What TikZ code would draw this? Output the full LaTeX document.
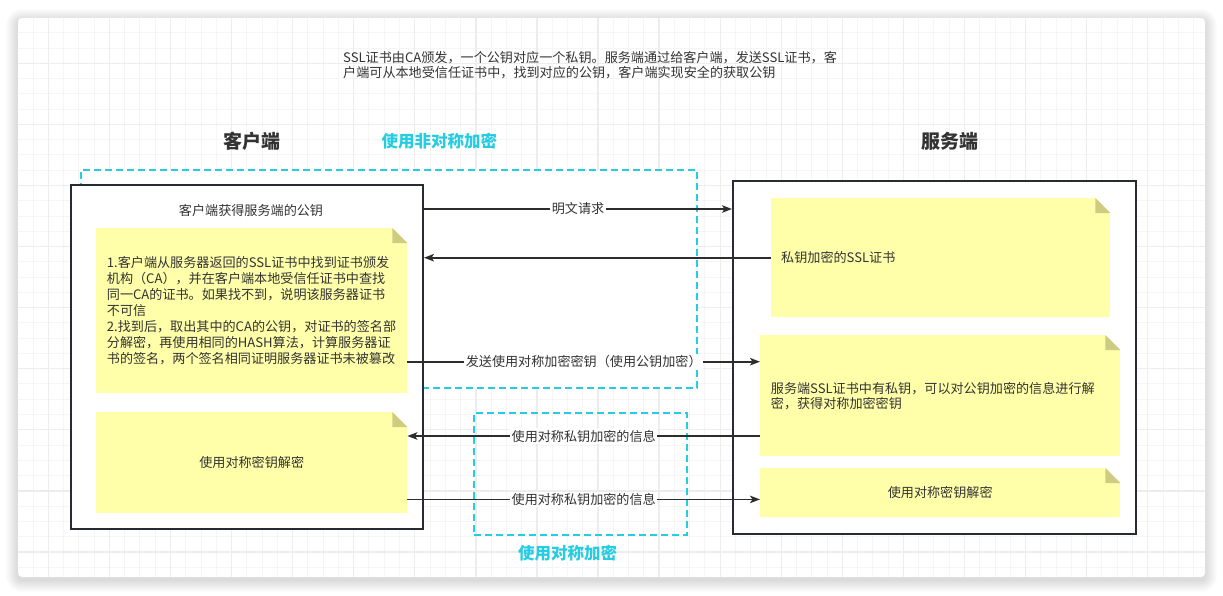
\documentclass[tikz,border=0pt]{standalone}
\usepackage{fontspec}
\setmainfont{Noto Sans CJK SC}
\usetikzlibrary{arrows.meta,calc}
\definecolor{textc}{RGB}{51,51,51}
\definecolor{boxc}{RGB}{40,44,50}
\definecolor{arrc}{RGB}{45,45,45}
\definecolor{cyanc}{RGB}{38,204,226}
\definecolor{notey}{RGB}{255,255,170}
\definecolor{foldc}{RGB}{206,204,128}
\definecolor{gridminor}{RGB}{245,245,245}
\definecolor{gridmajor}{RGB}{237,237,237}
\newcommand\notefold[1]{%
  \fill[white] ($(#1.north east)+(-15,0)$) -- (#1.north east) -- ($(#1.north east)+(0,15)$) -- cycle;
  \fill[foldc] ($(#1.north east)+(-15,0)$) -- ($(#1.north east)+(0,15)$) -- ($(#1.north east)+(-15,15)$) -- cycle;}
\begin{document}
\begin{tikzpicture}[x=1pt,y=-1pt,
  txt/.style={text=textc, font=\fontsize{13.1}{16.1}\selectfont, inner sep=0pt},
  head/.style={text=textc, font=\fontsize{19}{22}\selectfont\bfseries, inner sep=0pt},
  cyanhead/.style={text=cyanc, font=\fontsize{16.5}{20}\selectfont\bfseries, inner sep=0pt},
  frame/.style={draw=boxc, line width=2pt, fill=white, inner sep=0pt, anchor=north west},
  dashbox/.style={draw=cyanc, line width=2pt, dash pattern=on 7pt off 4pt, inner sep=0pt, anchor=north west},
  notebox/.style={fill=notey, inner sep=0pt, anchor=north west},
  arr/.style={draw=arrc, line width=1.7pt, -{Stealth[length=10pt,width=7.5pt,inset=2.5pt]}},
  lbl/.style={txt, fill=white, inner sep=1.5pt}
]
\useasboundingbox (0,0) rectangle (1223,595);
% window shadow
\foreach \i in {1,...,12}
  \fill[black, opacity=0.011, rounded corners={4+\i}] ({18-\i},{18-\i+3}) rectangle ({1205+\i},{577+\i+3});
\fill[white, rounded corners=4] (18,18) rectangle (1205,577);
% grid
\begin{scope}
\clip[rounded corners=4] (18,18) rectangle (1205,577);
\foreach \i in {-2,...,77} \draw[gridminor, line width=1pt] ({48.3+15.27*\i},18) -- ({48.3+15.27*\i},577);
\foreach \j in {-3,...,35} \draw[gridminor, line width=1pt] (18,{63.3+15.27*\j}) -- (1205,{63.3+15.27*\j});
\foreach \i in {0,...,19} \draw[gridmajor, line width=1.3pt] ({48.3+61.08*\i},18) -- ({48.3+61.08*\i},577);
\foreach \j in {-1,...,9} \draw[gridmajor, line width=1.3pt] (18,{63.3+61.08*\j}) -- (1205,{63.3+61.08*\j});
\end{scope}

% description
\node[txt, font=\fontsize{13.1}{15.4}\selectfont, anchor=west, align=left] (desc) at (343,65)
  {SSL证书由CA颁发，一个公钥对应一个私钥。服务端通过给客户端，发送SSL证书，客\\户端可从本地受信任证书中，找到对应的公钥，客户端实现安全的获取公钥};

% headings
\node[head] (hclient) at (251.7,141.5) {客户端};
\node[head] (hserver) at (950,141.5) {服务端};
\node[cyanhead] (hasym) at (439.3,141) {使用非对称加密};
\node[cyanhead] (hsym) at (567.6,553) {使用对称加密};

% dashed groups
\node[dashbox, fill=white, minimum width=616pt, minimum height=218pt] (asym) at (80,169) {};
\node[dashbox, minimum width=213pt, minimum height=122pt] (sym) at (473,412) {};

% main boxes
\node[frame, minimum width=352pt, minimum height=344pt] (client) at (70,184) {};
\node[frame, minimum width=403pt, minimum height=353pt] (server) at (732,180) {};

\node[txt] (ctitle) at (251,210) {客户端获得服务端的公钥};

% notes
\node[notebox, minimum width=311pt, minimum height=165pt] (cn1) at (96,228) {};
\notefold{cn1}
\node[notebox, minimum width=311pt, minimum height=101pt] (cn2) at (96,412) {};
\notefold{cn2}
\node[notebox, minimum width=339pt, minimum height=119pt] (sn1) at (771,198) {};
\notefold{sn1}
\node[notebox, minimum width=360pt, minimum height=121pt] (sn2) at (760,335) {};
\notefold{sn2}
\node[notebox, minimum width=360pt, minimum height=49pt] (sn3) at (760,468) {};
\notefold{sn3}

\node[txt, anchor=west, align=left] (cn1t) at ([xshift=10.7pt]cn1.west)
  {1.客户端从服务器返回的SSL证书中找到证书颁发\\机构（CA），并在客户端本地受信任证书中查找\\同一CA的证书。如果找不到，说明该服务器证书\\不可信\\2.找到后，取出其中的CA的公钥，对证书的签名部\\分解密，再使用相同的HASH算法，计算服务器证\\书的签名，两个签名相同证明服务器证书未被篡改};
\node[txt] (cn2t) at (cn2.center) {使用对称密钥解密};
\node[txt, anchor=west] (sn1t) at ([xshift=10pt]sn1.west) {私钥加密的SSL证书};
\node[txt, font=\fontsize{13.1}{15}\selectfont, anchor=west, align=left] (sn2t) at ([xshift=10.7pt]sn2.west)
  {服务端SSL证书中有私钥，可以对公钥加密的信息进行解\\密，获得对称加密密钥};
\node[txt] (sn3t) at (sn3.center) {使用对称密钥解密};

% connectors
\draw[arr] ([yshift=-25pt]client.north east) -- ([yshift=-25pt]client.north east -| server.west)
  node[lbl, midway] (l1) {明文请求};
\draw[arr] (sn1.west) -- (sn1.west -| client.east);
\draw[arr] ([yshift=-51pt]cn1.east) -- ([yshift=-51pt]cn1.east -| sn2.west)
  node[lbl, midway] (l3) {发送使用对称加密密钥（使用公钥加密）};
\draw[arr] ([yshift=-24pt]cn2.north east -| sn2.west) -- ([yshift=-24pt]cn2.north east)
  node[lbl, midway] (l4) {使用对称私钥加密的信息};
\draw[arr] ([yshift=14pt]cn2.south east) -- ([yshift=14pt]cn2.south east -| sn3.west)
  node[lbl, midway] (l5) {使用对称私钥加密的信息};
\end{tikzpicture}
\end{document}
